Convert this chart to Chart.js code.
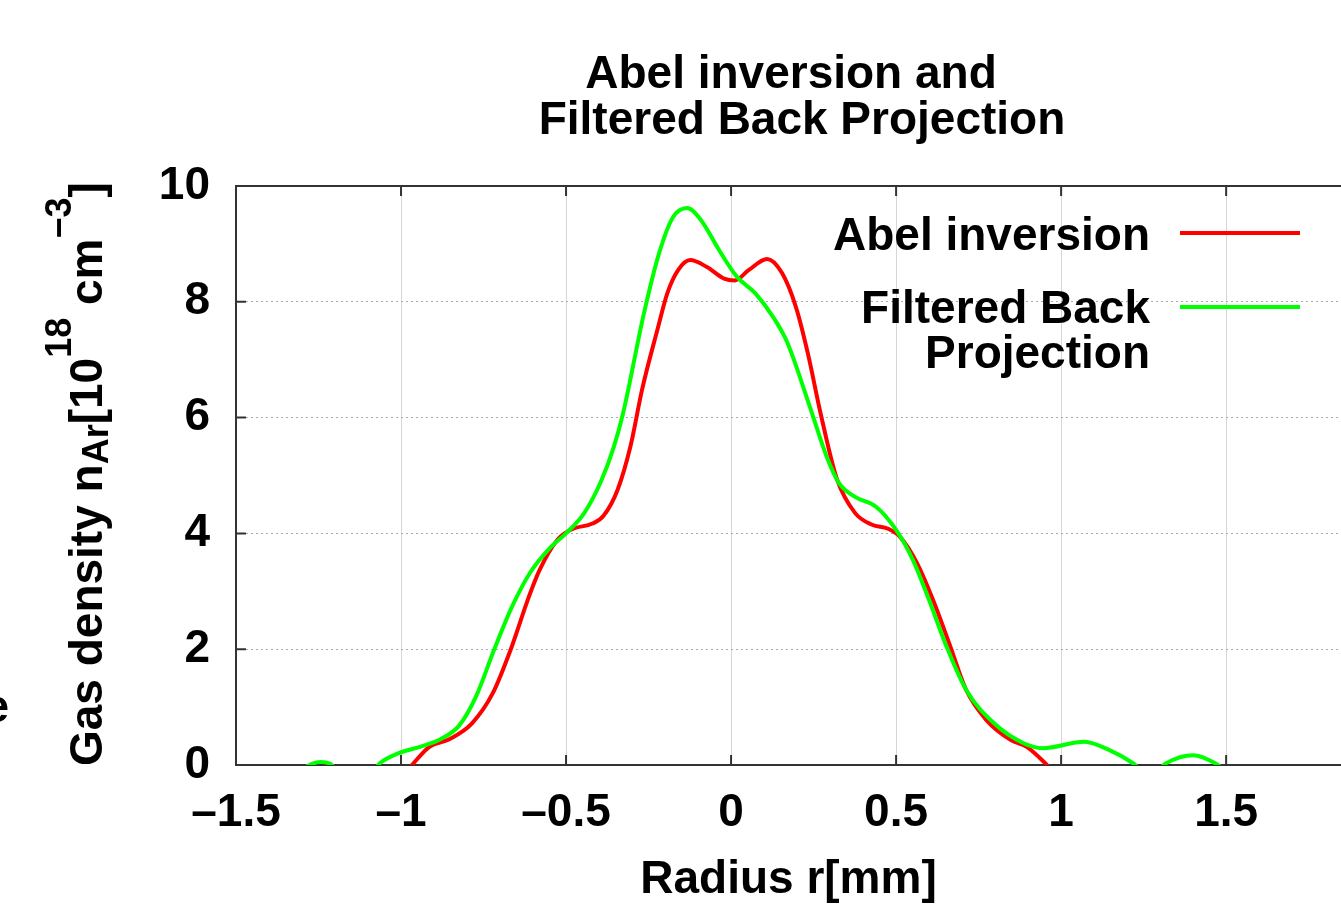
<!DOCTYPE html>
<html><head><meta charset="utf-8">
<script src="https://cdn.jsdelivr.net/npm/chart.js@4.4.0/dist/chart.umd.min.js"></script>
<style>html,body{margin:0;padding:0;background:#fff;overflow:hidden;}</style>
</head><body>
<canvas id="c" width="1341" height="909"></canvas>
<script>
// ---- data ----
const titleLines = ['Abel inversion and', 'Filtered Back Projection'];
const xAxisTitle = 'Radius r[mm]';
const seriesNames = ['Abel inversion', 'Filtered Back Projection'];
const xTicks = [-1.5, -1, -0.5, 0, 0.5, 1, 1.5];
const yTicks = [0, 2, 4, 6, 8, 10];

const abelX = [-1.00,-0.967,-0.915,-0.852,-0.785,-0.722,-0.668,-0.613,-0.58,-0.526,-0.483,-0.42,-0.387,-0.344,-0.305,-0.269,-0.224,-0.193,-0.16,-0.124,-0.073,-0.021,0.012,0.054,0.109,0.154,0.197,0.233,0.271,0.32,0.376,0.427,0.476,0.512,0.563,0.612,0.661,0.712,0.773,0.848,0.897,0.952,0.99];
const abelY = [-0.2,0.0,0.31,0.45,0.72,1.24,1.99,2.9,3.37,3.89,4.07,4.17,4.3,4.75,5.5,6.5,7.5,8.15,8.55,8.72,8.6,8.4,8.37,8.55,8.74,8.5,7.9,7.1,6.08,4.95,4.35,4.15,4.08,3.94,3.49,2.85,2.1,1.3,0.78,0.43,0.31,0.03,-0.2];

const fbpX = [-1.32,-1.27,-1.243,-1.215,-1.17,-1.10,-1.064,-1.009,-0.945,-0.879,-0.824,-0.773,-0.718,-0.664,-0.609,-0.545,-0.5,-0.445,-0.394,-0.355,-0.327,-0.264,-0.218,-0.176,-0.133,-0.091,-0.036,0.018,0.073,0.127,0.17,0.239,0.29,0.327,0.376,0.439,0.5,0.551,0.6,0.649,0.712,0.797,0.885,0.945,1.07,1.145,1.218,1.27,1.318,1.4,1.467,1.52];
const fbpY = [-0.15,0.02,0.05,0.02,-0.2,-0.2,0.03,0.2,0.31,0.45,0.68,1.18,1.99,2.73,3.32,3.77,4.0,4.35,4.9,5.5,6.08,7.8,8.84,9.46,9.62,9.41,8.89,8.43,8.15,7.74,7.3,6.18,5.32,4.87,4.63,4.46,4.06,3.54,2.85,2.1,1.3,0.72,0.38,0.29,0.4,0.26,0.03,-0.2,0.03,0.17,0.03,-0.2];

const colors = ['#ff0000', '#00ff00'];
const FONT = '"Liberation Sans", Arial, Helvetica, sans-serif';

const toPts = (xs, ys) => xs.map((x, i) => ({x, y: ys[i]}));
const fmt = v => (v < 0 ? '\u2013' + String(-v) : String(v));

const decor = {
  id: 'decor',
  beforeDatasetsDraw(chart) {
    const {ctx, chartArea: a, scales} = chart;
    ctx.save();
    ctx.strokeStyle = '#333';
    ctx.lineWidth = 2;
    ctx.beginPath();
    ctx.moveTo(a.right + 2, a.top); ctx.lineTo(a.left, a.top);
    ctx.lineTo(a.left, a.bottom); ctx.lineTo(a.right + 2, a.bottom);
    ctx.stroke();
    ctx.beginPath();
    scales.x.ticks.forEach(t => {
      const px = scales.x.getPixelForValue(t.value);
      ctx.moveTo(px, a.bottom); ctx.lineTo(px, a.bottom - 10);
      ctx.moveTo(px, a.top); ctx.lineTo(px, a.top + 10);
    });
    scales.y.ticks.forEach(t => {
      const py = scales.y.getPixelForValue(t.value);
      ctx.moveTo(a.left, py); ctx.lineTo(a.left + 10, py);
    });
    ctx.stroke();
    ctx.restore();
  },
  afterDraw(chart) {
    const {ctx} = chart;
    ctx.save();
    ctx.fillStyle = '#000';
    ctx.textBaseline = 'alphabetic';
    // title
    ctx.font = 'bold 46px ' + FONT;
    ctx.textAlign = 'center';
    ctx.fillText(titleLines[0], 791, 88);
    ctx.fillText(titleLines[1], 802, 134);
    // legend
    ctx.textAlign = 'right';
    ctx.fillText(seriesNames[0], 1150, 250);
    ctx.fillText('Filtered Back', 1150, 323);
    ctx.fillText('Projection', 1150, 368);
    ctx.lineWidth = 4;
    ctx.strokeStyle = colors[0];
    ctx.beginPath(); ctx.moveTo(1180, 233); ctx.lineTo(1300, 233); ctx.stroke();
    ctx.strokeStyle = colors[1];
    ctx.beginPath(); ctx.moveTo(1180, 307); ctx.lineTo(1300, 307); ctx.stroke();
    // y-axis title with sub/superscripts
    ctx.translate(102, 766);
    ctx.rotate(-Math.PI / 2);
    ctx.textAlign = 'left';
    const parts = [
      ['Gas density n', 46, 0], ['Ar', 36, 6], ['[10', 46, 0], ['18', 36, -31],
      [' cm', 46, 0], ['\u22123', 36, -31], [']', 46, 0]
    ];
    let x = 0;
    parts.forEach(([t, s, dy]) => {
      ctx.font = 'bold ' + s + 'px ' + FONT;
      ctx.fillText(t, x, dy);
      x += ctx.measureText(t).width;
    });
    ctx.restore();
    // clipped glyph from neighbouring panel at the left edge
    ctx.save();
    ctx.font = 'bold 46px ' + FONT;
    ctx.fillStyle = '#000';
    ctx.textAlign = 'right';
    ctx.fillText('e', 9, 722);
    ctx.restore();
  }
};

new Chart(document.getElementById('c'), {
  type: 'line',
  data: {
    datasets: [
      {label: seriesNames[0], data: toPts(abelX, abelY), borderColor: colors[0], borderWidth: 4, pointRadius: 0, cubicInterpolationMode: 'monotone', fill: false, order: 1},
      {label: seriesNames[1], data: toPts(fbpX, fbpY), borderColor: colors[1], borderWidth: 4, pointRadius: 0, cubicInterpolationMode: 'monotone', fill: false, order: 0}
    ]
  },
  plugins: [decor],
  options: {
    responsive: false,
    animation: false,
    events: [],
    layout: {padding: {top: 186, left: 0, right: 0, bottom: 0}},
    plugins: {legend: {display: false}, title: {display: false}, tooltip: {enabled: false}},
    scales: {
      x: {
        type: 'linear', min: -1.5, max: 1.848,
        afterFit: s => { s.height = 144; },
        afterBuildTicks: s => { s.ticks = xTicks.map(v => ({value: v})); },
        ticks: {stepSize: 0.5, includeBounds: false, padding: 21, color: '#000', maxRotation: 0, autoSkip: false,
          font: {family: FONT, size: 46, weight: 'bold'}, callback: v => fmt(v)},
        grid: {color: 'rgba(0,0,0,0.16)', lineWidth: 1, drawTicks: false},
        border: {display: false},
        title: {display: true, text: xAxisTitle, color: '#000', padding: {top: 0, bottom: 1},
          font: {family: FONT, size: 46, weight: 'bold'}}
      },
      y: {
        min: 0, max: 10,
        afterFit: s => { s.width = 236; },
        afterBuildTicks: s => { s.ticks = yTicks.map(v => ({value: v})); },
        ticks: {stepSize: 2, padding: 26, color: '#000',
          font: {family: FONT, size: 46, weight: 'bold'}, callback: v => fmt(v)},
        grid: {color: '#aaa', lineWidth: 1, drawTicks: false},
        border: {display: false, dash: [2, 3]}
      }
    }
  }
});
</script>
</body></html>
